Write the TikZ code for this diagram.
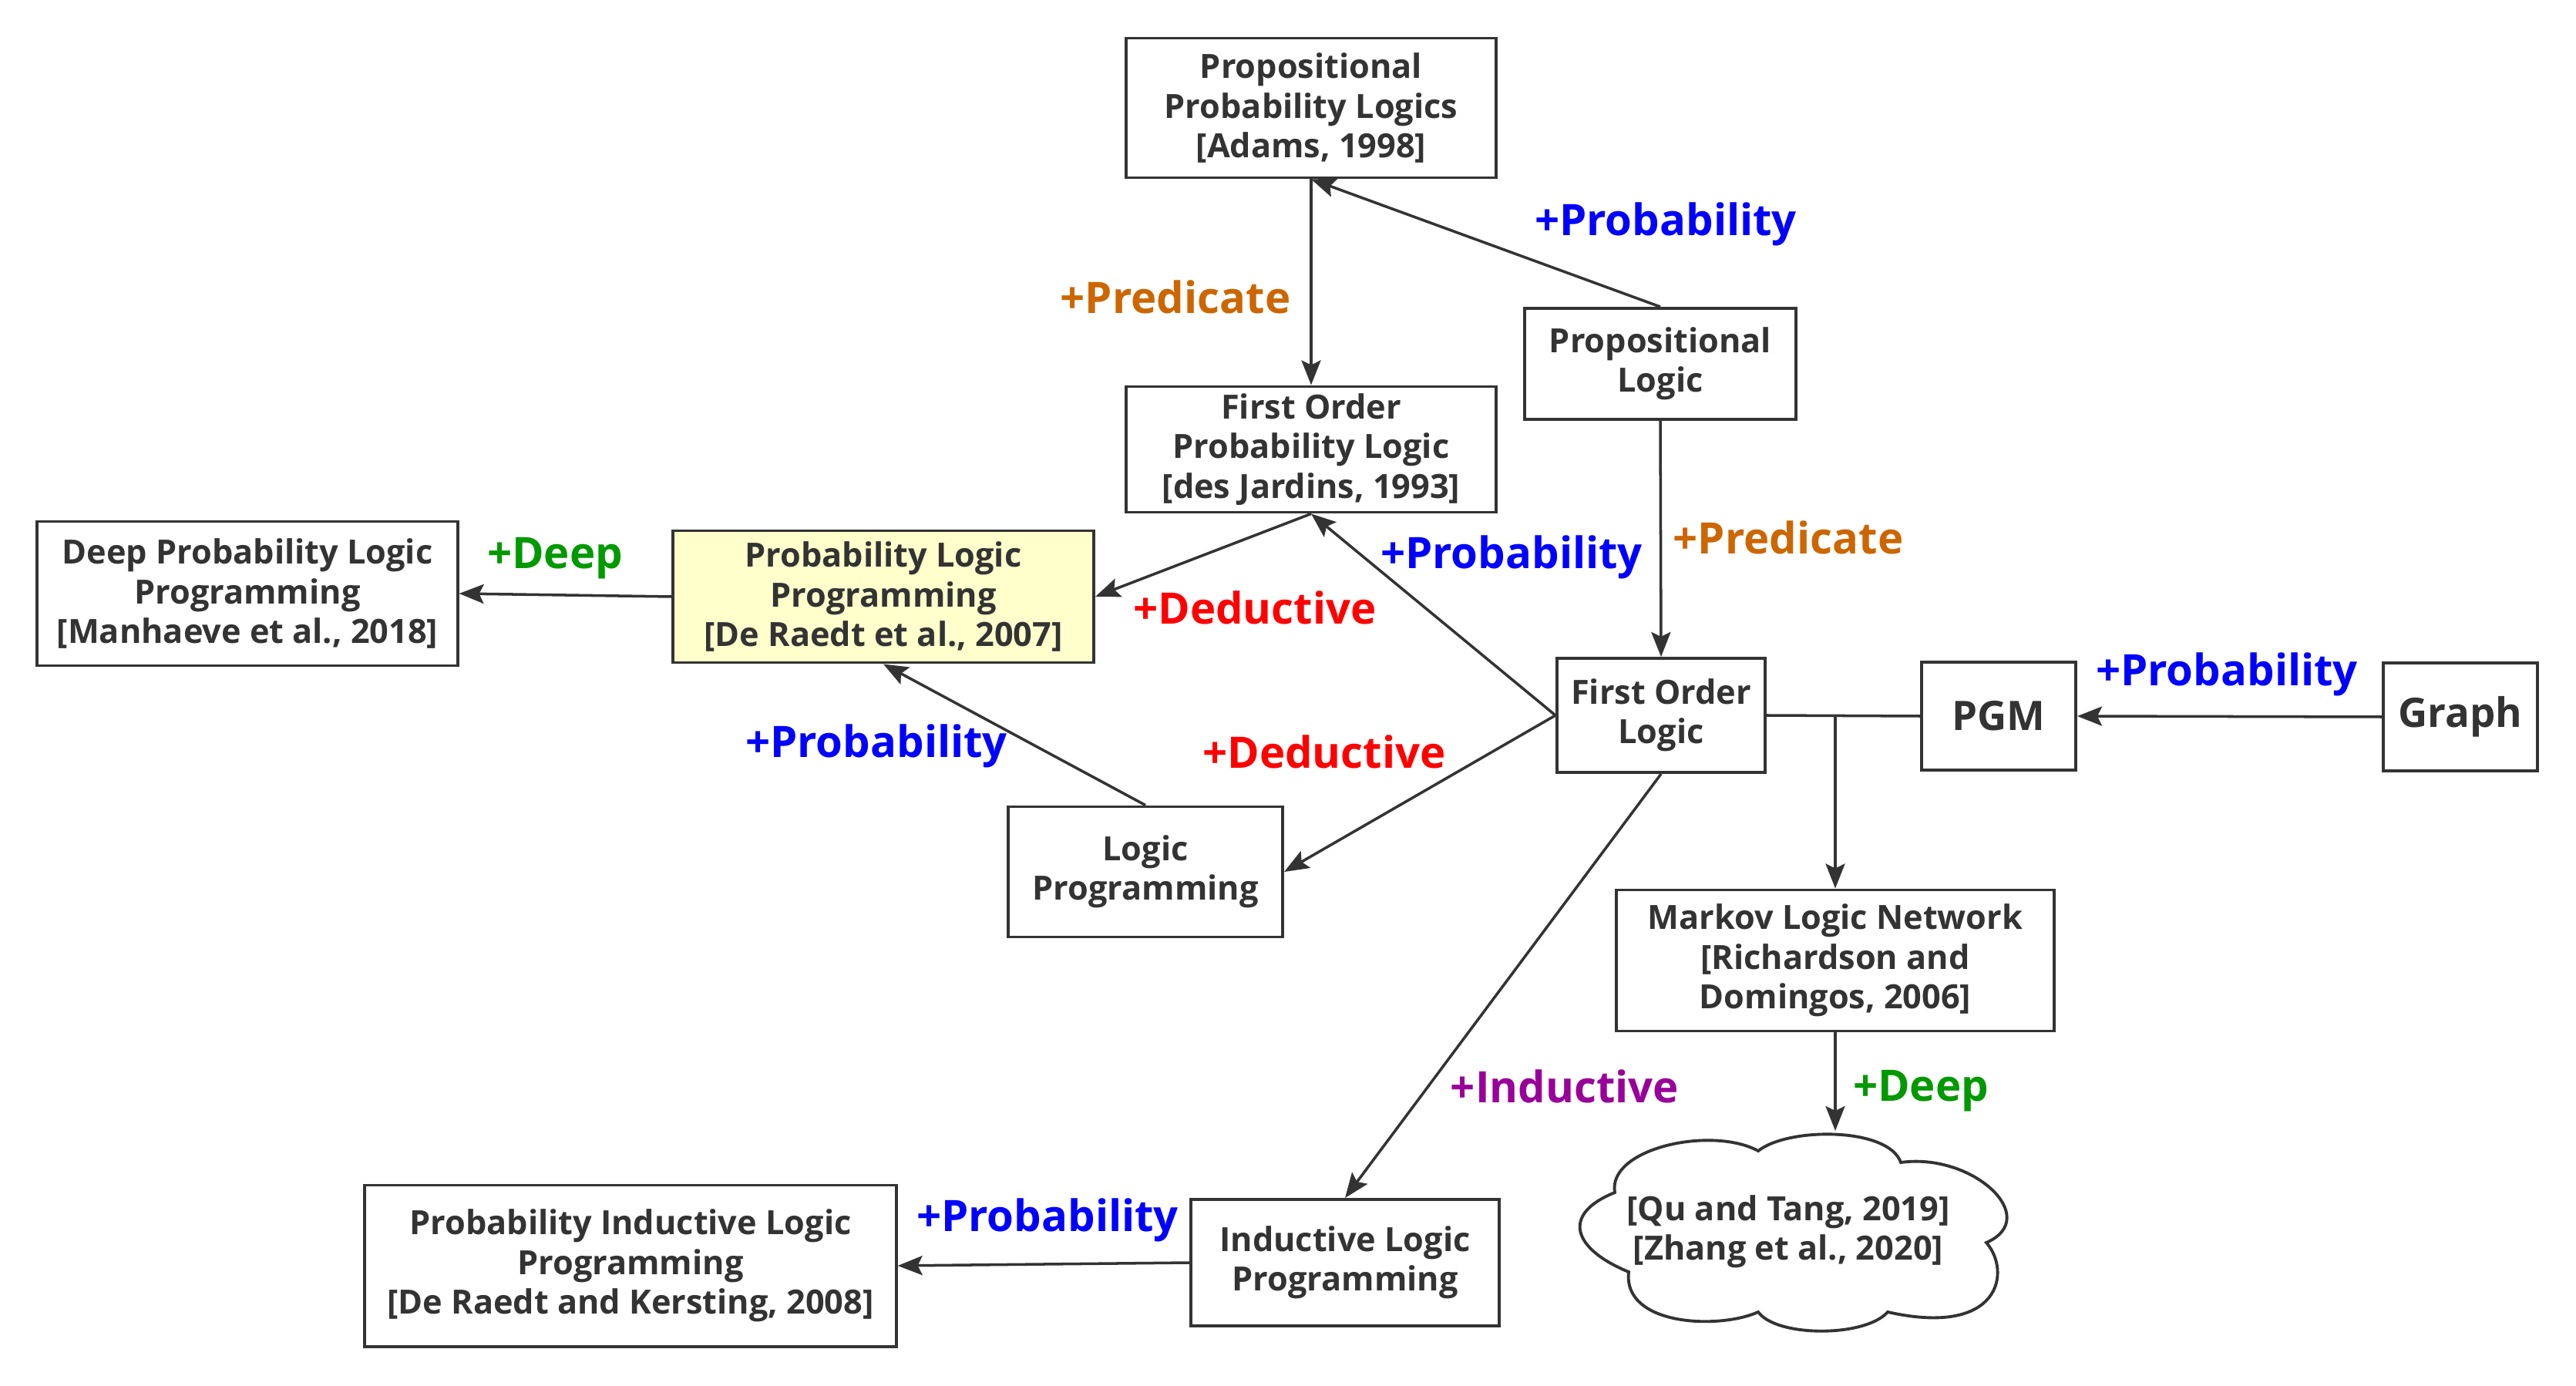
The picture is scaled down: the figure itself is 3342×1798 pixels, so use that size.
\documentclass[tikz,border=0pt]{standalone}
\usepackage{fontspec}
\setmainfont{Open Sans}
\usetikzlibrary{arrows.meta}
\definecolor{txt}{HTML}{333333}
\definecolor{cblue}{HTML}{0000FF}
\definecolor{cred}{HTML}{FF0000}
\definecolor{corange}{HTML}{CC6600}
\definecolor{cgreen}{HTML}{009900}
\definecolor{cpurple}{HTML}{990099}
\definecolor{cyellow}{HTML}{FFFFCC}
\begin{document}
\begin{tikzpicture}[x=0.01cm,y=-0.01cm,
  box/.style={draw=txt, line width=1.1pt, align=center, inner sep=0pt, text=txt,
    font=\bfseries\fontsize{12.3}{14.6}\selectfont},
  bigbox/.style={box, font=\bfseries\fontsize{15}{18}\selectfont},
  lab/.style={inner sep=0pt, font=\bfseries\fontsize{16}{19}\selectfont},
  conn/.style={draw=txt, line width=1pt},
  arr/.style={conn, -{Stealth[length=3.2mm,width=2.5mm,inset=0.6mm]}}]
\useasboundingbox (0,0) rectangle (3342,1798);
% boxes
\node[box, minimum width=4.79cm, minimum height=1.81cm] (ppl) at (1701,140) {Propositional\\Probability Logics\\{[Adams, 1998]}};
\node[box, minimum width=4.79cm, minimum height=1.63cm] (fopl) at (1701,583) {First Order\\Probability Logic\\{[des Jardins, 1993]}};
\node[box, minimum width=3.51cm, minimum height=1.44cm] (pl) at (2154,472) {Propositional\\Logic};
\node[box, minimum width=2.70cm, minimum height=1.48cm] (fol) at (2155,928) {First Order\\Logic};
\node[box, minimum width=5.45cm, minimum height=1.87cm] (dplp) at (321,770) {Deep Probability Logic\\Programming\\{[Manhaeve et al., 2018]}};
\node[box, fill=cyellow, minimum width=5.46cm, minimum height=1.71cm] (plp) at (1146,774) {Probability Logic\\Programming\\{[De Raedt et al., 2007]}};
\node[box, minimum width=3.56cm, minimum height=1.69cm] (lp) at (1486,1131) {Logic\\Programming};
\node[bigbox, minimum width=2.00cm, minimum height=1.40cm] (pgm) at (2593,929) {PGM};
\node[bigbox, minimum width=2.00cm, minimum height=1.40cm] (graph) at (3192,930) {Graph};
\node[box, minimum width=5.67cm, minimum height=1.83cm] (mln) at (2381,1246) {Markov Logic Network\\{[Richardson and}\\Domingos, 2006]};
\node[box, minimum width=3.99cm, minimum height=1.64cm] (ilp) at (1745,1638) {Inductive Logic\\Programming};
\node[box, minimum width=6.89cm, minimum height=2.09cm] (pilp) at (818,1642) {Probability Inductive Logic\\Programming\\{[De Raedt and Kersting, 2008]}};
\node[box, draw=none, minimum width=5.52cm, minimum height=2.58cm] (cloud) at (2320,1598) {{[Qu and Tang, 2019]}\\{[Zhang et al., 2020]}};
% cloud outline
\begin{scope}[shift={(cloud.center)}]
\draw[draw=txt, line width=1.1pt]
  (-225,-51) .. controls (-235,-108) and (-100,-138) .. (-39,-105)
  .. controls (0,-136) and (130,-136) .. (146,-90)
  .. controls (240,-103) and (330,-18) .. (257,14)
  .. controls (290,52) and (275,137) .. (129,104)
  .. controls (100,137) and (-15,137) .. (-39,104)
  .. controls (-90,127) and (-215,122) .. (-207,52)
  .. controls (-280,22) and (-295,-23) .. cycle;
\end{scope}
% connectors
\draw[arr] (ppl.south) -- (fopl.north);
\draw[arr] (pl.north) -- (ppl.south);
\draw[arr] (pl.south) -- (fol.north);
\draw[arr] (fopl.south) -- (plp.east);
\draw[arr] (fol.west) -- (fopl.south);
\draw[arr] (fol.west) -- (lp.east);
\draw[arr] (lp.north) -- (plp.south);
\draw[arr] (plp.west) -- (dplp.east);
\draw[arr] (fol.south) -- (ilp.north);
\draw[arr] (ilp.west) -- (pilp.east);
\draw[arr] (graph.west) -- (pgm.east);
\draw[conn] (fol.east) -- (pgm.west);
\coordinate (j) at (mln.north |- fol.east);
\draw[arr] (j) -- (mln.north);
\coordinate (ctop) at (mln.south |- cloud.north);
\draw[arr] (mln.south) -- (ctop);
% labels
\node[lab, text=corange] (predL) at (1525,385) {+Predicate};
\node[lab, text=cblue] (probTop) at (2161,291) {+Probability};
\node[lab, text=cblue] (probMid) at (1961,723) {+Probability};
\node[lab, text=corange] (predR) at (2320,697) {+Predicate};
\node[lab, text=cgreen] (deepL) at (720,724) {+Deep};
\node[lab, text=cred] (dedU) at (1628,788) {+Deductive};
\node[lab, text=cred] (dedL) at (1718,975) {+Deductive};
\node[lab, text=cblue] (probLP) at (1137,968) {+Probability};
\node[lab, text=cblue] (probB) at (1359,1583) {+Probability};
\node[lab, text=cpurple] (ind) at (2030,1409) {+Inductive};
\node[lab, text=cgreen] (deepR) at (2492,1415) {+Deep};
\node[lab, text=cblue] (probR) at (2889,875) {+Probability};
\end{tikzpicture}
\end{document}
